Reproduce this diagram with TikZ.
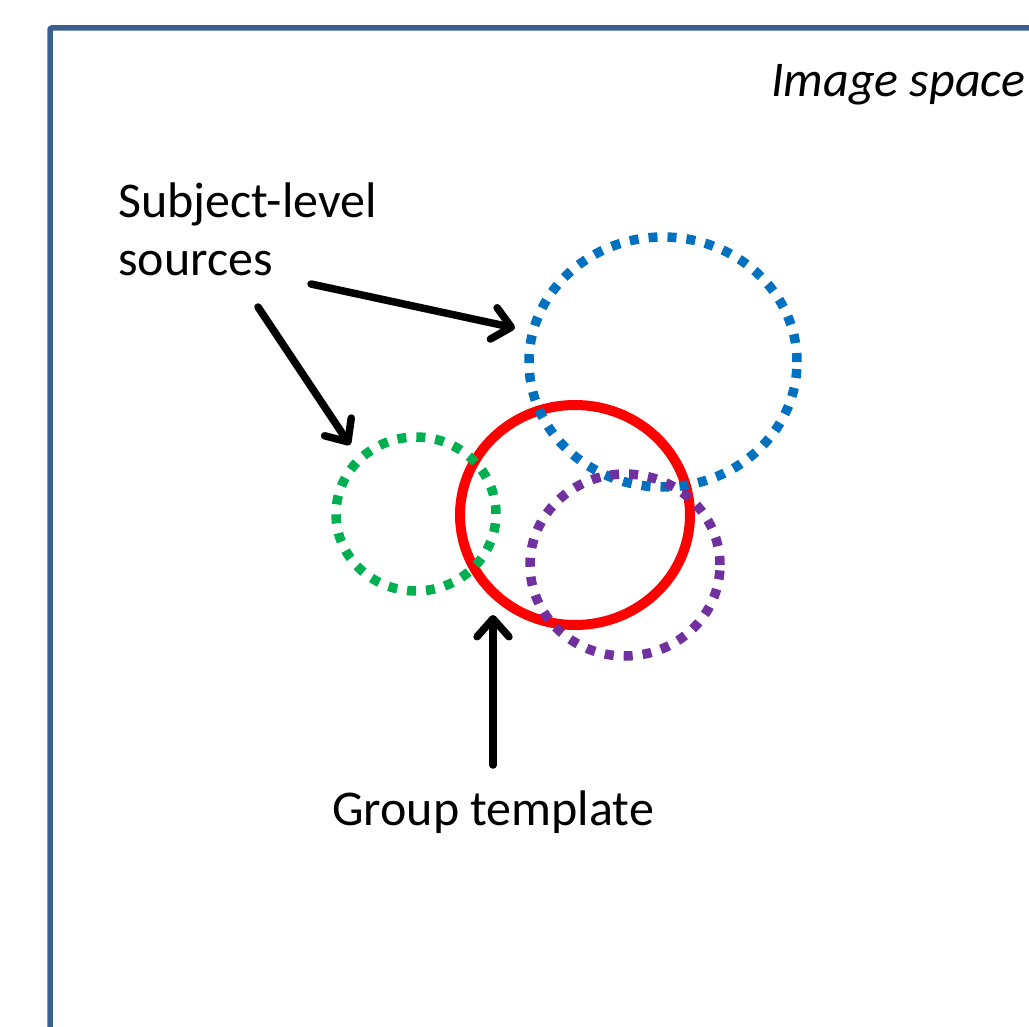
\documentclass[tikz,border=0pt]{standalone}
\usepackage{fontspec}
\setmainfont{Carlito}
\usetikzlibrary{arrows.meta,shapes.geometric}
\definecolor{frameblue}{HTML}{3A5F8E}
\definecolor{srcblue}{HTML}{0070C0}
\definecolor{srcgreen}{HTML}{00B050}
\definecolor{srcpurple}{HTML}{7030A0}
\definecolor{tmplred}{HTML}{FF0000}
\tikzset{
  lbl/.style={font=\fontsize{50}{58}\selectfont, inner sep=0pt, align=left},
  source/.style={ellipse, draw, line width=9.5pt, dash pattern=on 9pt off 10pt, line cap=butt, inner sep=0pt},
  template/.style={ellipse, draw=tmplred, line width=10pt, inner sep=0pt},
  pointer/.style={line width=7.5pt, line cap=round, -{Straight Barb[length=18pt,width=32pt,round]}},
}
\begin{document}
\begin{tikzpicture}[x=1pt,y=-1pt]
\useasboundingbox (0,0) rectangle (1029,1027);
\clip (0,0) rectangle (1029,1027);
% outer frame of the image space
\draw[frameblue, line width=5.5pt, rounded corners=2pt] (50,28) rectangle (1060,1060);
\node[lbl, anchor=base west, font=\fontsize{50}{58}\selectfont\itshape] (space) at (771,97) {Image space};

% group template and subject-level sources
\node[template, minimum width=230pt, minimum height=220pt] (tmpl) at (575,515) {};
\node[source, draw=srcblue, minimum width=268pt, minimum height=250pt] (blue) at (663,362) {};
\node[source, draw=srcgreen, minimum width=160pt, minimum height=154pt] (green) at (416,514) {};
\node[source, draw=srcpurple, minimum width=190pt, minimum height=182pt] (purple) at (625,565) {};

% labels (base anchor sits on the last line)
\node[lbl, anchor=base west] (subj) at (118,276) {Subject-level\\sources};
\node[lbl, anchor=base west] (grp) at (332,825) {Group template};

% arrow end points
\coordinate (a1s) at (311,284);
\coordinate (a1e) at (515,328);
\coordinate (a2s) at (258,307);
\coordinate (a2e) at (350,445);
\coordinate (a3s) at (493,765);
\coordinate (a3e) at (493,615);
\draw[pointer] (a1s) -- (a1e);
\draw[pointer] (a2s) -- (a2e);
\draw[pointer] (a3s) -- (a3e);
\end{tikzpicture}
\end{document}
